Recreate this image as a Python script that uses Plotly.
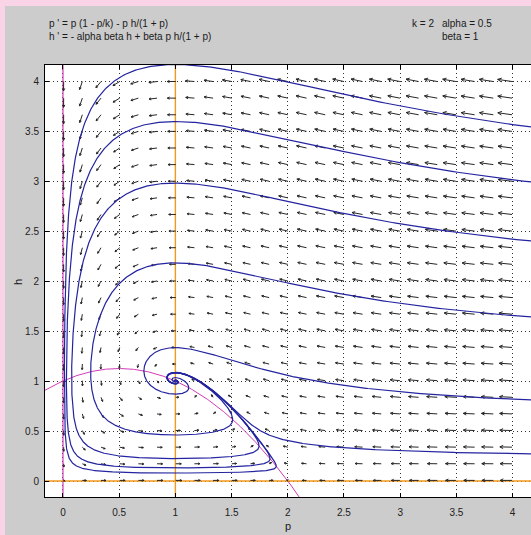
import numpy as np
import plotly.graph_objects as go

# ---- model parameters (from the chart header) ----
K = 2.0
ALPHA = 0.5
BETA = 1.0

# ---- axes ----
x_range = [-0.16, 4.164]
y_range = [-0.16, 4.16]
tick_vals = [0, 0.5, 1, 1.5, 2, 2.5, 3, 3.5, 4]
tick_text = ["0", "0.5", "1", "1.5", "2", "2.5", "3", "3.5", "4"]

# ---- trajectory starting points (read on the right edge of the window) ----
start_p = [4.16, 4.16, 4.16, 4.16, 4.16, 4.16]
start_h = [3.54, 2.99, 2.40, 1.64, 0.81, 0.27]

# ---- direction-field grid ----
grid_p = [0.006 + 0.1662 * k for k in range(25)]
grid_h = [0.006 + 0.1662 * k for k in range(25)]

# ---- figure geometry ----
W, H = 531, 535
ML, MT, MB, MR = 45, 65, 38, 0
PW, PH = W - ML - MR, H - MT - MB
SX = PW / (x_range[1] - x_range[0])
SY = PH / (y_range[1] - y_range[0])


def f(p, h):
    dp = p * (1 - p / K) - p * h / (1 + p)
    dh = -ALPHA * BETA * h + BETA * p * h / (1 + p)
    return dp, dh


def integrate(p0, h0, dt, tmax, backward=False):
    p, h = p0, h0
    P, Hh = [p], [h]
    n = int(tmax / abs(dt))
    for i in range(n):
        k1 = f(p, h)
        k2 = f(p + dt / 2 * k1[0], h + dt / 2 * k1[1])
        k3 = f(p + dt / 2 * k2[0], h + dt / 2 * k2[1])
        k4 = f(p + dt * k3[0], h + dt * k3[1])
        p = p + dt / 6 * (k1[0] + 2 * k2[0] + 2 * k3[0] + k4[0])
        h = h + dt / 6 * (k1[1] + 2 * k2[1] + 2 * k3[1] + k4[1])
        P.append(p)
        Hh.append(h)
        if backward:
            if p > 4.6 or h > 4.6 or p < -0.3 or h < -0.3:
                break
        else:
            if np.hypot(p - 1, h - 1) < 0.004:
                break
    return P, Hh


fig = go.Figure()

# nullclines
pp = np.linspace(x_range[0], 2.2, 300)
hn = (1 - pp / K) * (1 + pp)
fig.add_trace(go.Scatter(x=pp, y=hn, mode="lines",
                         line=dict(color="#d23cb4", width=1), hoverinfo="skip"))
fig.add_trace(go.Scatter(x=[0, 0], y=y_range, mode="lines",
                         line=dict(color="#d23cb4", width=1.2), hoverinfo="skip"))
p_star = ALPHA / (1 - ALPHA)
fig.add_trace(go.Scatter(x=[p_star, p_star], y=y_range, mode="lines",
                         line=dict(color="#f29a1c", width=1.4), hoverinfo="skip"))
fig.add_trace(go.Scatter(x=x_range, y=[0, 0], mode="lines",
                         line=dict(color="#f29a1c", width=1.4), hoverinfo="skip"))

# direction field arrows
ax, ay = [], []
for p in grid_p:
    for h in grid_h:
        dp, dh = f(p, h)
        sp = np.hypot(dp, dh)
        if sp < 1e-9:
            continue
        L = 14.5 * (sp / 7.3) ** (1 / 3)
        ux, uy = dp * SX, dh * SY
        n = np.hypot(ux, uy)
        ux, uy = ux / n, uy / n
        tx, ty = p + L * ux / SX, h + L * uy / SY
        ax += [p, tx, None]
        ay += [h, ty, None]
        hl = max(2.0, 0.3 * L)
        for ang in (0.45, -0.45):
            c, s = np.cos(ang), np.sin(ang)
            bx = -(ux * c - uy * s)
            by = -(ux * s + uy * c)
            ax += [tx, tx + hl * bx / SX, None]
            ay += [ty, ty + hl * by / SY, None]
fig.add_trace(go.Scatter(x=ax, y=ay, mode="lines",
                         line=dict(color="#262626", width=1), hoverinfo="skip"))

# trajectories
for p0, h0 in zip(start_p, start_h):
    Pb, Hb = integrate(p0, h0, -0.005, 5, backward=True)
    Pf, Hf = integrate(p0, h0, 0.01, 150)
    P = Pb[::-1] + Pf[1:]
    Hh = Hb[::-1] + Hf[1:]
    fig.add_trace(go.Scatter(x=P, y=Hh, mode="lines",
                             line=dict(color="#2424a0", width=1.2), hoverinfo="skip"))


def px2paper(x, y):
    return (x - ML) / PW, (H - MB - y) / PH


annotations = []
font = dict(family="Liberation Sans, Arial, sans-serif", size=10, color="#1a1a1a")
for txt, x, y in [("p ' = p (1 - p/k) - p h/(1 + p)", 47, 24),
                  ("h ' = - alpha beta h + beta p h/(1 + p)", 47, 36),
                  ("k = 2", 410, 24),
                  ("alpha = 0.5", 440, 24),
                  ("beta = 1", 440, 36)]:
    xp, yp = px2paper(x, y)
    annotations.append(dict(text=txt, x=xp, y=yp, xref="paper", yref="paper",
                            xanchor="left", yanchor="middle", showarrow=False, font=font))
xp, yp = px2paper(288, 526)
annotations.append(dict(text="p", x=xp, y=yp, xref="paper", yref="paper",
                        xanchor="center", yanchor="middle", showarrow=False,
                        font=dict(family="Liberation Sans, Arial, sans-serif", size=11, color="#1a1a1a")))
xp, yp = px2paper(18, 282)
annotations.append(dict(text="h", x=xp, y=yp, xref="paper", yref="paper", textangle=-90,
                        xanchor="center", yanchor="middle", showarrow=False,
                        font=dict(family="Liberation Sans, Arial, sans-serif", size=11, color="#1a1a1a")))

shapes = []
x0p, _ = px2paper(0, 0)
x1p, _ = px2paper(5, 0)
_, ytop = px2paper(0, 0)
_, ybot = px2paper(0, H)
_, y6 = px2paper(0, 6)
x_right, _ = px2paper(W, 0)
shapes.append(dict(type="rect", xref="paper", yref="paper", x0=x0p, x1=x1p, y0=ybot, y1=ytop,
                   fillcolor="#f8d4e6", line=dict(width=0), layer="above"))
shapes.append(dict(type="rect", xref="paper", yref="paper", x0=x0p, x1=x_right, y0=y6, y1=ytop,
                   fillcolor="#f8d4e6", line=dict(width=0), layer="above"))

axis_common = dict(showgrid=True, gridcolor="#333333", griddash="1px,3px", gridwidth=1,
                   zeroline=False, ticks="inside", ticklen=4, tickcolor="#000000",
                   showline=True, linecolor="#000000", linewidth=1,
                   tickvals=tick_vals, ticktext=tick_text,
                   tickfont=dict(family="Liberation Sans, Arial, sans-serif", size=10, color="#222222"))

fig.update_layout(
    width=W, height=H,
    margin=dict(l=ML, r=MR, t=MT, b=MB, pad=0),
    paper_bgcolor="#cccccc", plot_bgcolor="#ffffff",
    showlegend=False,
    xaxis=dict(range=x_range, mirror="ticks", ticklabelstandoff=6, **axis_common),
    yaxis=dict(range=y_range, ticklabelstandoff=3, **axis_common),
    annotations=annotations, shapes=shapes,
)

fig.write_html("out.html")
